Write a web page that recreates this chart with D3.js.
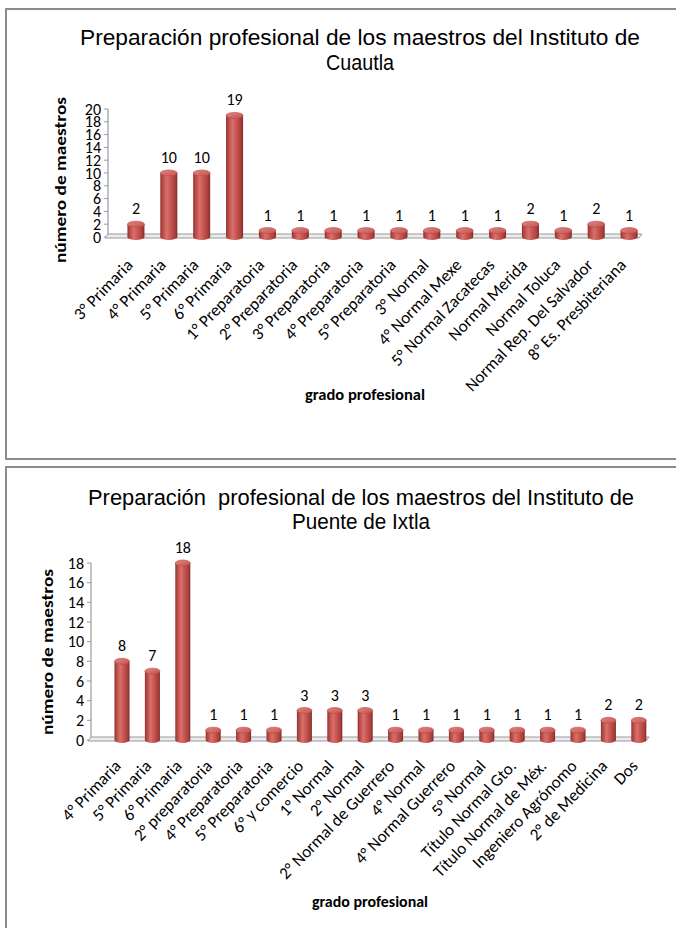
<!DOCTYPE html>
<html><head><meta charset="utf-8">
<script src="https://cdn.jsdelivr.net/npm/d3@7"></script>
<style>
html,body{margin:0;padding:0;background:#fff;}
svg{display:block;}
</style></head>
<body>
<svg id="c" width="676" height="928"></svg>
<script>
// ---------- data ----------
const cuautlaCategories = ["3° Primaria","4° Primaria","5° Primaria","6° Primaria","1° Preparatoria","2° Preparatoria","3° Preparatoria","4° Preparatoria","5° Preparatoria","3° Normal","4° Normal Mexe","5° Normal Zacatecas","Normal Merida","Normal Toluca","Normal Rep. Del Salvador","8° Es. Presbiteriana"];
const cuautlaValues = [2,10,10,19,1,1,1,1,1,1,1,1,2,1,2,1];
const cuautlaTicks = [0,2,4,6,8,10,12,14,16,18,20];
const cuautlaTitle = ["Preparación profesional de los maestros del Instituto de","Cuautla"];

const ixtlaCategories = ["4° Primaria","5° Primaria","6° Primaria","2° preparatoria","4° Preparatoria","5° Preparatoria","6° y comercio","1° Normal","2° Normal","2° Normal de Guerrero","4° Normal","4° Normal Guerrero","5° Normal","Título Normal Gto.","Título Normal de Méx.","Ingeniero Agrónomo","2° de Medicina","Dos"];
const ixtlaValues = [8,7,18,1,1,1,3,3,3,1,1,1,1,1,1,1,2,2];
const ixtlaTicks = [0,2,4,6,8,10,12,14,16,18];
const ixtlaTitle = ["Preparación  profesional de los maestros del Instituto de","Puente de Ixtla"];

const yTitle = "número de maestros";
const xTitle = "grado profesional";

// ---------- drawing ----------
const svg = d3.select("#c");
const defs = svg.append("defs");
const g1 = defs.append("linearGradient").attr("id","cyl").attr("x1","0").attr("x2","1").attr("y1","0").attr("y2","0");
[[0,"#8e2f2c"],[0.12,"#b54744"],[0.38,"#d8706c"],[0.6,"#c85753"],[0.88,"#a83e3b"],[1,"#7e2926"]].forEach(([o,c])=>g1.append("stop").attr("offset",o).attr("stop-color",c));
const g2 = defs.append("linearGradient").attr("id","cyltop").attr("x1","0").attr("x2","1").attr("y1","0").attr("y2","1");
[[0,"#e08683"],[1,"#c5524e"]].forEach(([o,c])=>g2.append("stop").attr("offset",o).attr("stop-color",c));

const labelFont = "Carlito, Lato, 'Open Sans', sans-serif";

function drawChart(cfg){
  const g = svg.append("g");
  g.append("rect").attr("x",cfg.box[0]).attr("y",cfg.box[1]).attr("width",cfg.box[2]).attr("height",cfg.box[3])
    .attr("fill","#fff").attr("stroke","#8c8c8c").attr("stroke-width",2);
  cfg.title.forEach((t,i)=>{
    g.append("text").attr("x",cfg.titleX).attr("y",cfg.titleY + i*cfg.titleLH)
      .attr("text-anchor","middle").attr("font-family","'Liberation Sans', Arial, sans-serif")
      .attr("font-size",cfg.titleSize).attr("fill","#000").style("white-space","pre")
      .attr("textLength",cfg.titleLen[i]).attr("lengthAdjust","spacingAndGlyphs").text(t);
  });
  const x = d3.scaleBand().domain(cfg.categories).range(cfg.xRange);
  const y = d3.scaleLinear().domain(cfg.yDomain).range(cfg.yRange);
  const y0 = y(0);
  const ax = cfg.axisX;
  g.append("line").attr("x1",ax).attr("x2",ax).attr("y1",y(cfg.yDomain[1])).attr("y2",y0)
    .attr("stroke","#9a9a9a").attr("stroke-width",1.2);
  cfg.ticks.forEach(t=>{
    g.append("line").attr("x1",ax-4).attr("x2",ax).attr("y1",y(t)).attr("y2",y(t)).attr("stroke","#9a9a9a");
    g.append("text").attr("x",ax-7).attr("y",y(t)).attr("dy","0.35em").attr("text-anchor","end")
      .attr("font-family",labelFont).attr("font-size",cfg.tickSize).attr("fill","#000").text(t);
  });
  const fx1 = cfg.floorEnd;
  g.append("polygon").attr("points",[[ax,y0-3],[fx1+3,y0-3],[fx1,y0+1],[ax-3,y0+1]].map(p=>p.join(",")).join(" "))
    .attr("fill","#ececec").attr("stroke","#9a9a9a").attr("stroke-width",1);
  const bw = cfg.barW, ry = cfg.ry;
  cfg.values.forEach((v,i)=>{
    const cx = x(cfg.categories[i]) + x.bandwidth()/2;
    const yt = y(v);
    const bg = g.append("g");
    bg.append("ellipse").attr("cx",cx).attr("cy",y0).attr("rx",bw/2).attr("ry",ry).attr("fill","url(#cyl)");
    bg.append("rect").attr("x",cx-bw/2).attr("y",yt).attr("width",bw).attr("height",y0-yt).attr("fill","url(#cyl)");
    bg.append("ellipse").attr("cx",cx).attr("cy",yt).attr("rx",bw/2).attr("ry",ry).attr("fill","url(#cyltop)")
      .attr("stroke","#b84a46").attr("stroke-width",0.6);
    g.append("text").attr("x",cx).attr("y",yt - cfg.valOff).attr("text-anchor","middle")
      .attr("font-family",labelFont).attr("font-size",cfg.valSize).attr("fill","#000").text(v);
    g.append("text").attr("transform",`translate(${cx + cfg.lblDx},${y0 + cfg.lblDy}) rotate(${cfg.lblRot})`)
      .attr("text-anchor","end").attr("font-family",labelFont).attr("font-size",cfg.lblSize).attr("fill","#000")
      .text(cfg.categories[i]);
  });
  g.append("text").attr("transform",`translate(${cfg.yTitleX},${cfg.yTitleY}) rotate(-90)`)
    .attr("text-anchor","middle").attr("font-family",labelFont).attr("font-weight","bold")
    .attr("font-size",cfg.axTitleSize).attr("textLength",cfg.yTitleLen).attr("lengthAdjust","spacingAndGlyphs").text(yTitle);
  g.append("text").attr("x",cfg.xTitleX).attr("y",cfg.xTitleY).attr("text-anchor","middle")
    .attr("font-family",labelFont).attr("font-weight","bold").attr("font-size",cfg.axTitleSize)
    .attr("textLength",cfg.xTitleLen).attr("lengthAdjust","spacingAndGlyphs").text(xTitle);
}

drawChart({
  box:[6,9,680,450], title:cuautlaTitle, titleX:360, titleY:45, titleLH:25, titleSize:22, titleLen:[560,68],
  categories:cuautlaCategories, values:cuautlaValues, ticks:cuautlaTicks,
  xRange:[119.5,645.5], yDomain:[0,20], yRange:[237,109], axisX:108, floorEnd:639,
  barW:17, ry:3, valOff:10, valSize:16, tickSize:16, lblSize:17, lblDx:-2, lblDy:29, lblRot:-46,
  yTitleX:66, yTitleY:180, yTitleLen:166, xTitleX:365, xTitleY:400, xTitleLen:120, axTitleSize:15
});
drawChart({
  box:[6,467,680,470], title:ixtlaTitle, titleX:361, titleY:505, titleLH:24, titleSize:22, titleLen:[546,138],
  categories:ixtlaCategories, values:ixtlaValues, ticks:ixtlaTicks,
  xRange:[106.8,654], yDomain:[0,18], yRange:[740,563], axisX:91, floorEnd:646,
  barW:15, ry:3, valOff:10, valSize:16, tickSize:16, lblSize:17, lblDx:0, lblDy:27, lblRot:-46,
  yTitleX:53, yTitleY:652, yTitleLen:166, xTitleX:370, xTitleY:907, xTitleLen:116, axTitleSize:15
});
</script>
</body></html>
